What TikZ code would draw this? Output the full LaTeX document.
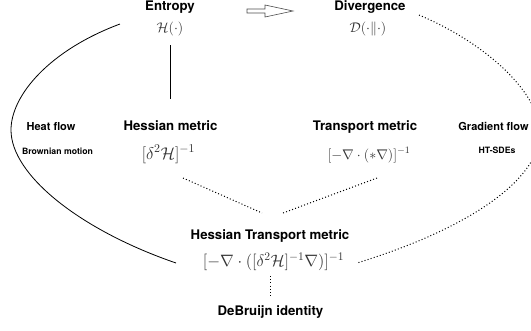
\RequirePackage{fix-cm}
\documentclass[tikz,border=0pt]{standalone}
\usepackage{fontspec}
\setsansfont{TeX Gyre Heros}
\begin{document}
\begin{tikzpicture}[x=1pt,y=-1pt,
  big/.style={font=\sffamily\bfseries\fontsize{13.2}{15}\selectfont, inner sep=0pt, anchor=base},
  mid/.style={font=\sffamily\bfseries\fontsize{11}{13}\selectfont, inner sep=0pt, anchor=base},
  small/.style={font=\sffamily\bfseries\fontsize{8.7}{10}\selectfont, inner sep=0pt, anchor=base},
  mtop/.style={font=\fontsize{14}{16}\selectfont, inner sep=0pt, anchor=base, text=black!80},
  mmid/.style={font=\fontsize{16.5}{19}\selectfont, inner sep=0pt, anchor=base, text=black!80},
  link/.style={line width=0.8pt, black},
  dotlink/.style={line width=1pt, dash pattern=on 1pt off 2.2pt, black},
]
\useasboundingbox (0,0) rectangle (531,330);
\clip (0,0) rectangle (531,330);
% texts
\node[big] (entT) at (170,10.7) {Entropy};
\node[mtop] (entM) at (170,32) {$\mathcal{H}(\cdot)$};
\node[big] (divT) at (370,10.7) {Divergence};
\node[mtop] (divM) at (368,32) {$\mathcal{D}(\cdot\|\cdot)$};
\node[mid] (heat) at (51,130.5) {Heat flow};
\node[small] (brown) at (57.5,154) {Brownian motion};
\node[big] (hessT) at (170.5,130) {Hessian metric};
\node[mmid, font=\fontsize{17}{19}\selectfont] (hessM) at (168.5,159) {$[\delta^2\mathcal{H}]^{-1}$};
\node[big] (transT) at (365,130) {Transport metric};
\node[mmid, font=\fontsize{14}{17}\selectfont] (transM) at (369,159) {$[-\nabla\cdot(*\nabla)]^{-1}$};
\node[mid] (gradT) at (493.5,130.5) {Gradient flow};
\node[small] (htsde) at (497,153) {HT-SDEs};
\node[big] (htT) at (270,239) {Hessian Transport metric};
\node[mmid] (htM) at (273.5,266.8) {$[-\nabla\cdot([\delta^2\mathcal{H}]^{-1}\nabla)]^{-1}$};
\node[big] (deb) at (270.5,315) {DeBruijn identity};
% connector end points
\coordinate (vA) at (170,45);
\coordinate (vB) at (170,99);
\coordinate (lA) at (120,24);
\coordinate (lM) at (11,130);
\coordinate (lB) at (176,263);
\coordinate (rA) at (419,15);
\coordinate (rM) at (540,133);
\coordinate (rB) at (357,263);
\coordinate (hA) at (183,178);
\coordinate (hB) at (262,213);
\coordinate (tA) at (377,178);
\coordinate (tB) at (283,213);
\coordinate (dA) at (270.7,276);
\coordinate (dB) at (270.7,298);
% connectors
\draw[link] (vA) -- (vB);
\draw[link] (lA) .. controls (50,50) and (11,95) .. (lM)
                 .. controls (11,175) and (80,230) .. (lB);
\draw[dotlink] (rA) .. controls (490,45) and (540,95) .. (rM)
                    .. controls (540,175) and (480,225) .. (rB);
\draw[dotlink] (hA) -- (hB);
\draw[dotlink] (tA) -- (tB);
\draw[dotlink] (dA) -- (dB);
% hollow arrow
\draw[line width=0.6pt, black!70] (247,9) -- (265,9) -- (265,5) -- (293,11) -- (265,17) -- (265,13) -- (247,13) -- cycle;
\end{tikzpicture}
\end{document}
